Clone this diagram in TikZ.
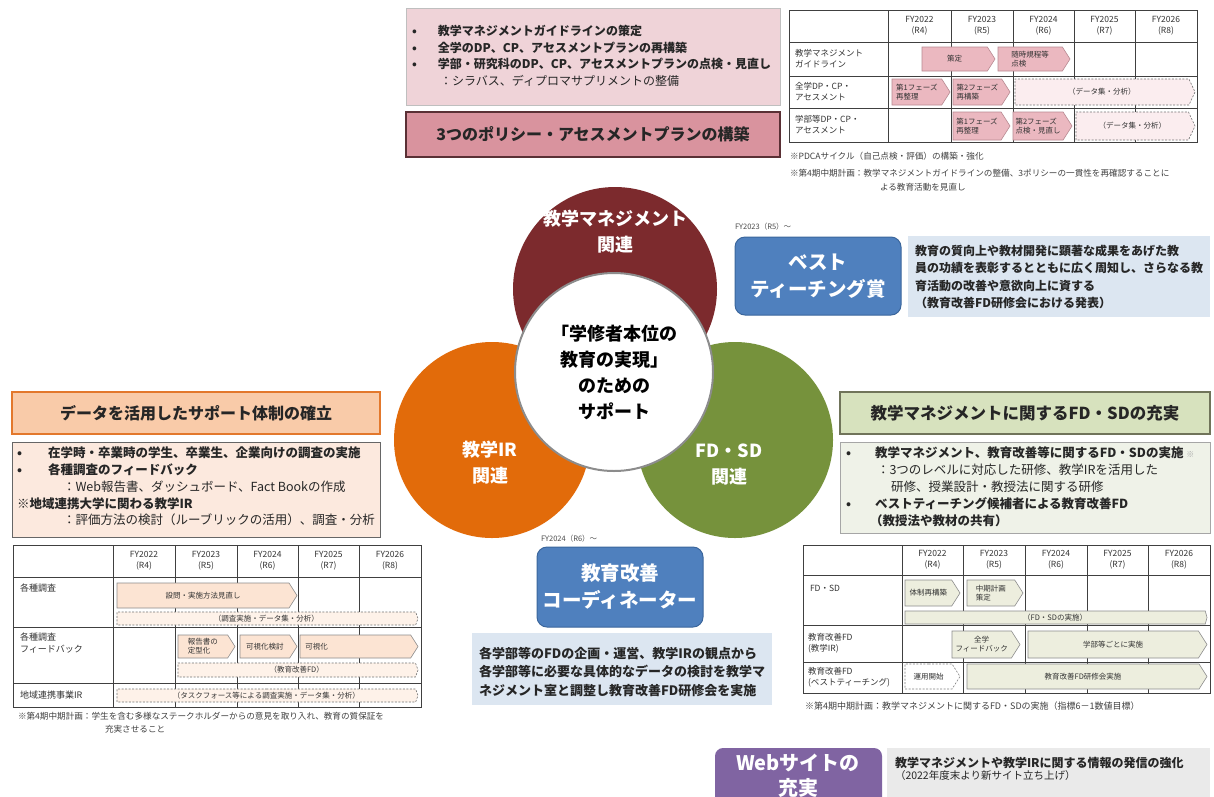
\documentclass[tikz,border=0pt]{standalone}
\usepackage{fontspec}
\setmainfont{Noto Sans CJK JP}
\usetikzlibrary{shapes.symbols}
\newcommand\fsz[2]{\fontsize{#1}{#2}\selectfont}
\newcommand\stepnode[7]{%
  \pgfmathsetmacro\stpW{#4-#3}%
  \pgfmathsetmacro\stpH{#6-#5}%
  \pgfmathsetmacro\stpY{(#5+#6)/2}%
  \node[#1, minimum width=\stpW pt, minimum height=\stpH pt, anchor=west] (#2) at (#3,\stpY) {#7};}
\newcommand\boxnode[7]{%
  \pgfmathsetmacro\bxW{#5-#3}%
  \pgfmathsetmacro\bxH{#6-#4}%
  \pgfmathsetmacro\bxX{(#3+#5)/2}%
  \pgfmathsetmacro\bxY{(#4+#6)/2}%
  \node[#1, minimum width=\bxW pt, minimum height=\bxH pt] (#2) at (\bxX,\bxY) {#7};}
\definecolor{cpkbg}{HTML}{EFD3D8}
\definecolor{cpktitle}{HTML}{D9939E}
\definecolor{cpkdark}{HTML}{5A3035}
\definecolor{cpkarr}{HTML}{EBB8C0}
\definecolor{cpkarrd}{HTML}{B88A92}
\definecolor{cpkdash}{HTML}{FBEDEF}
\definecolor{corbg}{HTML}{FCE9DE}
\definecolor{cortitle}{HTML}{F9CBA9}
\definecolor{cordraw}{HTML}{E3782C}
\definecolor{corarr}{HTML}{FCE4D3}
\definecolor{cgrbg}{HTML}{EFF2E8}
\definecolor{cgrtitle}{HTML}{D7E2BE}
\definecolor{cgrdraw}{HTML}{70745A}
\definecolor{cgrarr}{HTML}{EDEEDE}
\definecolor{cmaroon}{HTML}{7C2A2D}
\definecolor{ccircor}{HTML}{E26B0A}
\definecolor{ccircgr}{HTML}{76923C}
\definecolor{cblue}{HTML}{4F80BE}
\definecolor{cbluedraw}{HTML}{3B669C}
\definecolor{clightblue}{HTML}{DCE6F1}
\definecolor{cpurple}{HTML}{8064A2}
\definecolor{cgray}{HTML}{EAEAEA}
\definecolor{ctabline}{HTML}{404040}
\tikzset{
  every node/.style={inner sep=0pt, outer sep=0pt},
  tline/.style={draw=ctabline, line width=0.9pt},
  hdr/.style={align=center, font=\fsz{8.5}{11}, text=black!80},
  rowlab/.style={anchor=west, align=left, font=\fsz{8.5}{11}, text=black!80},
  note/.style={anchor=west, font=\fsz{8.6}{10}, text=black!75},
  sigbase/.style={signal, signal to=east, signal from=nowhere, line width=0.6pt, inner xsep=2pt, inner ysep=0pt, align=left, font=\fsz{7.5}{9}, text=black!80},
  pkstep/.style={sigbase, signal pointer angle=115, draw=cpkarrd, fill=cpkarr},
  pkdashed/.style={sigbase, signal pointer angle=130, draw=black!55, dash pattern=on 2pt off 1.5pt, fill=cpkdash, align=center},
  orstep/.style={sigbase, signal pointer angle=115, draw=black!45, fill=corarr},
  ordashed/.style={sigbase, signal pointer angle=140, draw=black!55, dash pattern=on 2pt off 1.5pt, fill=corarr!50, align=center},
  grstep/.style={sigbase, signal pointer angle=115, draw=black!45, fill=cgrarr},
  grdashed/.style={sigbase, signal pointer angle=115, draw=black!50, dash pattern=on 2pt off 1.5pt, fill=white, align=center},
  pkboxst/.style={draw=black!25, fill=cpkbg, line width=0.8pt},
  pktitlest/.style={draw=cpkdark, fill=cpktitle, line width=1.8pt, font=\fsz{16}{18}\bfseries, text=black!85},
  ortitlest/.style={draw=cordraw, fill=cortitle, line width=1.8pt, font=\fsz{16}{18}\bfseries, text=black!85},
  orbodyst/.style={draw=black!60, fill=corbg, line width=0.8pt},
  grtitlest/.style={draw=cgrdraw, fill=cgrtitle, line width=1.8pt, font=\fsz{16.5}{18}\bfseries, text=black!85},
  grbodyst/.style={draw=black!35, fill=cgrbg, line width=0.8pt},
  blueboxst/.style={draw=cbluedraw, fill=cblue, line width=1pt, rounded corners=10pt, align=center, font=\fsz{19.5}{27}\bfseries, text=white},
  lbboxst/.style={fill=clightblue},
  purpleboxst/.style={fill=cpurple, rounded corners=8pt},
  grayboxst/.style={fill=cgray},
  bodytext/.style={anchor=north west, align=left, text=black!85},
  fytext/.style={anchor=west, font=\fsz{7.5}{9}, text=black!70},
  circtext/.style={align=center, font=\fsz{18}{26}\bfseries, text=white},
}
\begin{document}
\begin{tikzpicture}[x=1pt,y=-1pt]
\useasboundingbox (0,0) rectangle (1214,796);
\clip (0,0) rectangle (1214,796);
\fill[white] (0,0) rectangle (1214,796);

% ===== top-left: policies =====
\boxnode{pkboxst}{polbox}{406}{8}{780}{105}{}
\node[bodytext, font=\fsz{12}{16.8}\bfseries] (poltext) at (412,25) {%
\makebox[26pt][l]{•}教学マネジメントガイドラインの策定\\
\makebox[26pt][l]{•}全学のDP、CP、アセスメントプランの再構築\\
\makebox[26pt][l]{•}学部・研究科のDP、CP、アセスメントプランの点検・見直し\\
\hspace*{28pt}{\mdseries ：シラバス、ディプロマサプリメントの整備}};
\boxnode{pktitlest}{poltitle}{406}{112}{780}{157}{3つのポリシー・アセスメントプランの構築}

% ===== top-right table =====
\draw[tline] (789,10) rectangle (1197,142);
\foreach \x in {888,951,1013,1074,1135} \draw[tline] (\x,10) -- (\x,142);
\foreach \y in {42,76,108} \draw[tline] (789,\y) -- (1197,\y);
\foreach \cx/\fy/\r [count=\k] in {919.5/2022/4, 982/2023/5, 1043.5/2024/6, 1104.5/2025/7, 1166/2026/8}
  \node[hdr] (t1h\k) at (\cx,26) {FY\fy\\(R\r)};
\node[rowlab] (t1r1) at (795,59) {教学マネジメント\\ガイドライン};
\node[rowlab] (t1r2) at (795,92) {全学DP・CP・\\アセスメント};
\node[rowlab] (t1r3) at (795,125) {学部等DP・CP・\\アセスメント};
\stepnode{pkstep,align=center}{t1a}{922}{995}{47}{71}{策定}
\stepnode{pkstep}{t1b}{998}{1070}{47}{71}{随時規程等\\点検}
\stepnode{pkstep}{t1c}{892}{950}{79}{105}{第1フェーズ\\再整理}
\stepnode{pkstep}{t1d}{953}{1010}{79}{105}{第2フェーズ\\再構築}
\stepnode{pkdashed}{t1e}{1015}{1195}{79}{105}{（データ集・分析）}
\stepnode{pkstep}{t1f}{953}{1010}{112}{140}{第1フェーズ\\再整理}
\stepnode{pkstep}{t1g}{1013}{1072}{112}{140}{第2フェーズ\\点検・見直し}
\stepnode{pkdashed}{t1h}{1076}{1195}{112}{140}{（データ集・分析）}
\node[note] (t1n1) at (790,156) {※PDCAサイクル（自己点検・評価）の構築・強化};
\node[note] (t1n2) at (790,173) {※第4期中期計画：教学マネジメントガイドラインの整備、3ポリシーの一貫性を再確認することに};
\node[note] (t1n3) at (880,187) {よる教育活動を見直し};

% ===== circles =====
\node[circle, fill=cmaroon, minimum size=204pt] (cmgmt) at (615,289) {};
\node[circle, fill=ccircor, minimum size=196pt] (cir) at (492,440) {};
\node[circle, fill=ccircgr, minimum size=196pt] (cfd) at (735,440) {};
\node[circle, fill=white, draw=black!45, line width=2pt, minimum size=198pt] (ccenter) at (614,372) {};
\node[circtext] (tmgmt) at (615,232) {教学マネジメント\\関連};
\node[circtext] (tir) at (490,463) {教学IR\\関連};
\node[circtext] (tfd) at (729,465) {FD・SD\\関連};
\node[circtext, text=black, font=\fsz{18}{26}\bfseries] (tcenter) at (614,372) {「学修者本位の\\教育の実現」\\のための\\サポート};

% ===== best teaching =====
\node[fytext] (btfy) at (735,227) {FY2023（R5）～};
\boxnode{blueboxst}{btbox}{735}{237}{901}{315}{ベスト\\ティーチング賞}
\boxnode{lbboxst}{btdesc}{908}{236}{1210}{317}{}
\node[anchor=west, align=left, font=\fsz{12}{17.5}\bfseries, text=black!85] (btdesctext) at (915,277) {%
教育の質向上や教材開発に顕著な成果をあげた教\\
員の功績を表彰するとともに広く周知し、さらなる教\\
育活動の改善や意欲向上に資する\\
（教育改善FD研修会における発表）};

% ===== left: data =====
\boxnode{ortitlest}{datatitle}{12}{392}{380}{434}{データを活用したサポート体制の確立}
\boxnode{orbodyst}{databody}{12}{442}{380}{537}{}
\node[bodytext, font=\fsz{12.5}{16.8}\bfseries] (datatext) at (17,447) {%
\makebox[31pt][l]{•}在学時・卒業時の学生、卒業生、企業向けの調査の実施\\
\makebox[31pt][l]{•}各種調査のフィードバック\\
\hspace*{46pt}{\mdseries ：Web報告書、ダッシュボード、Fact Bookの作成}\\
※地域連携大学に関わる教学IR\\
\hspace*{46pt}{\mdseries ：評価方法の検討（ルーブリックの活用）、調査・分析}};

% ===== left table =====
\draw[tline] (13,545) rectangle (421,707);
\foreach \x in {113,175,237,298,359} \draw[tline] (\x,545) -- (\x,707);
\foreach \y in {577,627,683} \draw[tline] (13,\y) -- (421,\y);
\foreach \cx/\fy/\r [count=\k] in {144/2022/4, 206/2023/5, 267.5/2024/6, 328.5/2025/7, 390/2026/8}
  \node[hdr] (t2h\k) at (\cx,561) {FY\fy\\(R\r)};
\node[rowlab, font=\fsz{9}{11.5}] (t2r1) at (20,588) {各種調査};
\node[rowlab, font=\fsz{9}{11.5}] (t2r2) at (20,643) {各種調査\\フィードバック};
\node[rowlab, font=\fsz{9}{11.5}] (t2r3) at (20,695) {地域連携事業IR};
\stepnode{orstep,align=center}{t2a}{117}{297}{583}{608}{設問・実施方法見直し}
\stepnode{ordashed}{t2b}{117}{418}{612}{625}{（調査実施・データ集・分析）}
\stepnode{orstep}{t2c}{178}{235}{635}{658}{報告書の\\定型化}
\stepnode{orstep}{t2d}{240}{297}{635}{658}{可視化検討}
\stepnode{orstep, text width=100pt}{t2e}{300}{418}{635}{658}{可視化}
\stepnode{ordashed}{t2f}{178}{418}{663}{677}{（教育改善FD）}
\stepnode{ordashed}{t2g}{117}{418}{689}{702}{（タスクフォース等による調査実施・データ集・分析）}
\node[note] (t2n1) at (18,716) {※第4期中期計画：学生を含む多様なステークホルダーからの意見を取り入れ、教育の質保証を};
\node[note] (t2n2) at (105,729) {充実させること};

% ===== right: FD/SD =====
\boxnode{grtitlest}{fdtitle}{840}{392}{1210}{434}{教学マネジメントに関するFD・SDの充実}
\boxnode{grbodyst}{fdbody}{840}{442}{1210}{533}{}
\node[bodytext, font=\fsz{12.5}{16.8}\bfseries] (fdtext) at (846,447) {%
\makebox[29pt][l]{•}教学マネジメント、教育改善等に関するFD・SDの実施 {\color{black!35}\fsz{8}{8}※}\\
\hspace*{31pt}{\mdseries ：3つのレベルに対応した研修、教学IRを活用した}\\
\hspace*{45pt}{\mdseries 研修、授業設計・教授法に関する研修}\\
\makebox[29pt][l]{•}ベストティーチング候補者による教育改善FD\\
\hspace*{24pt}（教授法や教材の共有）};

% ===== right table =====
\draw[tline] (803,545) rectangle (1210,693);
\foreach \x in {902,963,1025,1087,1148} \draw[tline] (\x,545) -- (\x,693);
\foreach \y in {575,625,662} \draw[tline] (803,\y) -- (1210,\y);
\foreach \cx/\fy/\r [count=\k] in {932.5/2022/4, 994/2023/5, 1056/2024/6, 1117.5/2025/7, 1179/2026/8}
  \node[hdr] (t3h\k) at (\cx,560) {FY\fy\\(R\r)};
\node[rowlab] (t3r1) at (810,588) {FD・SD};
\node[rowlab] (t3r2) at (808,643) {教育改善FD\\(教学IR)};
\node[rowlab] (t3r3) at (808,677) {教育改善FD\\(ベストティーチング)};
\stepnode{grstep}{t3a}{905}{960}{580}{606}{体制再構築}
\stepnode{grstep}{t3b}{967}{1023}{580}{606}{中期計画\\策定}
\stepnode{grstep, align=center, signal pointer angle=150}{t3c}{905}{1207}{611}{624}{（FD・SDの実施）}
\stepnode{grstep, align=center}{t3d}{952}{1020}{631}{658}{全学\\フィードバック}
\stepnode{grstep, align=center}{t3e}{1028}{1207}{631}{658}{学部等ごとに実施}
\stepnode{grdashed}{t3f}{905}{960}{664}{689}{運用開始}
\stepnode{grstep, align=center}{t3g}{967}{1207}{664}{689}{教育改善FD研修会実施}
\node[note, font=\fsz{9}{11}] (t3n1) at (805,706) {※第4期中期計画：教学マネジメントに関するFD・SDの実施（指標6－1数値目標）};

% ===== bottom center: coordinator =====
\node[fytext] (coordfy) at (541,539) {FY2024（R6）～};
\boxnode{blueboxst}{coordbox}{537}{547}{703}{627}{教育改善\\コーディネーター}
\boxnode{lbboxst}{coorddesc}{472}{633}{772}{705}{}
\node[anchor=west, align=left, font=\fsz{13}{18.5}\bfseries, text=black!85] (coordtext) at (479,672) {%
各学部等のFDの企画・運営、教学IRの観点から\\
各学部等に必要な具体的なデータの検討を教学マ\\
ネジメント室と調整し教育改善FD研修会を実施};

% ===== bottom right: web =====
\boxnode{purpleboxst}{webbox}{715}{748}{882}{812}{}
\node[align=center, font=\fsz{20}{25}\bfseries, text=white] (webtext) at (798,776) {Webサイトの\\充実};
\boxnode{grayboxst}{webdesc}{887}{748}{1210}{812}{}
\node[bodytext, font=\fsz{12}{12.5}\bfseries] (webdesctext) at (895,757) {%
教学マネジメントや教学IRに関する情報の発信の強化\\
{\mdseries\fsz{10.5}{12}（2022年度末より新サイト立ち上げ）}};
\end{tikzpicture}
\end{document}
